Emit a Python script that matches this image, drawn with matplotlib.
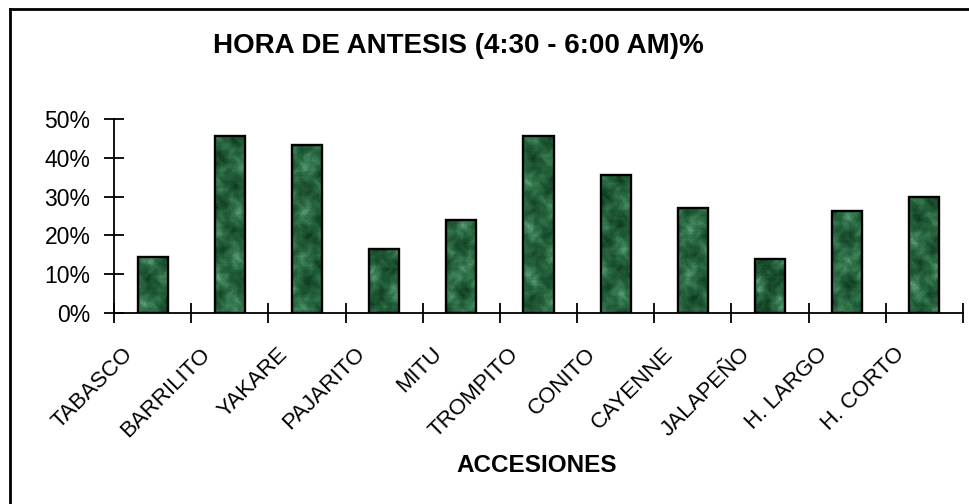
import matplotlib
matplotlib.use('Agg')
import matplotlib.pyplot as plt
from matplotlib.colors import LinearSegmentedColormap
from matplotlib.lines import Line2D
from matplotlib.transforms import ScaledTranslation
import numpy as np

plt.rcParams['font.family'] = ['Liberation Sans', 'DejaVu Sans']

accesiones = ['TABASCO', 'BARRILITO', 'YAKARE', 'PAJARITO', 'MITU', 'TROMPITO',
              'CONITO', 'CAYENNE', 'JALAPEÑO', 'H. LARGO', 'H. CORTO']
antesis = [0.144, 0.456, 0.433, 0.165, 0.240, 0.456,
           0.355, 0.271, 0.138, 0.262, 0.300]
yticks = [0, 0.1, 0.2, 0.3, 0.4, 0.5]
ytick_labels = ['0%', '10%', '20%', '30%', '40%', '50%']


def marble_texture(rows, cols, phase):
    # mottled green fill for the bars: warped blobs at a few scales
    yy, xx = np.mgrid[0:rows, 0:cols].astype(float)
    f = np.zeros_like(xx)
    for k, (s, amp) in enumerate([(0.16, 1.0), (0.33, 0.55), (0.71, 0.3)]):
        wx = xx + 4 * np.sin(yy * s * 0.9 + phase + k)
        wy = yy + 4 * np.cos(xx * s * 1.1 - phase + k)
        f += amp * np.sin(wx * s + phase * (k + 1)) * np.cos(wy * s * 0.8 + k)
    return f


marble = LinearSegmentedColormap.from_list(
    'marble', ['#0e361d', '#1a4f2f', '#26633d', '#3b7f55', '#63a17f'])

fig = plt.figure(figsize=(9.7, 5.04), dpi=100)
ax = fig.add_axes([114 / 970, 1 - 313 / 504, 849 / 970, 194 / 504])

x = np.arange(len(accesiones))
width = 0.39
bars = ax.bar(x, antesis, width=width, facecolor='none',
              edgecolor='black', linewidth=1.7, zorder=3)
for i, (xi, h) in enumerate(zip(x, antesis)):
    tex = marble_texture(int(h * 400) + 2, 30, phase=i * 1.3)
    ax.imshow(tex, extent=[xi - width / 2, xi + width / 2, 0, h],
              aspect='auto', cmap=marble, zorder=2, interpolation='bilinear')

ax.set_xlim(-0.5, len(accesiones) - 0.5)
ax.set_ylim(0, 0.5)

for side in ['top', 'right']:
    ax.spines[side].set_visible(False)
for side in ['left', 'bottom']:
    ax.spines[side].set_linewidth(1.3)

ax.set_yticks(yticks)
ax.set_yticklabels(ytick_labels, fontsize=16.5)
ax.set_xticks(np.arange(len(accesiones) + 1) - 0.5)
ax.set_xticklabels([])
ax.set_xticks(x, minor=True)
ax.set_xticklabels(accesiones, minor=True, fontsize=16, rotation=45,
                   ha='right', va='top', rotation_mode='anchor')
ax.tick_params(axis='both', which='major', direction='inout', length=14,
               width=1.3, color='black')
ax.tick_params(axis='y', pad=10)
ax.tick_params(axis='x', which='minor', length=0, pad=22)

# category names sit a little left of each bar
shift = ScaledTranslation(-0.3, 0, fig.dpi_scale_trans)
for lbl in ax.get_xticklabels(minor=True):
    lbl.set_transform(lbl.get_transform() + shift)

fig.text(458 / 970, 1 - 46 / 504, 'HORA DE ANTESIS (4:30 - 6:00 AM)%',
         ha='center', va='center', fontsize=20, fontweight='bold')
fig.text(537 / 970, 1 - 466 / 504, 'ACCESIONES',
         ha='center', va='center', fontsize=17.5, fontweight='bold')

# outer chart frame (left and top edges)
fig.add_artist(Line2D([10.5 / 970, 10.5 / 970], [0, 1 - 9 / 504],
                      color='black', linewidth=2, transform=fig.transFigure))
fig.add_artist(Line2D([10 / 970, 1], [1 - 9 / 504, 1 - 9 / 504],
                      color='black', linewidth=2, transform=fig.transFigure))

fig.savefig('out.png', dpi=100)
